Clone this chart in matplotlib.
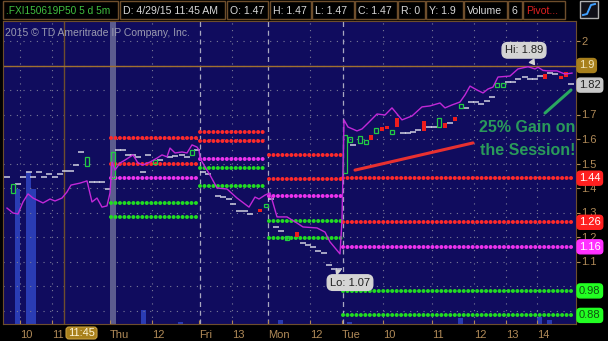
import matplotlib.pyplot as plt
from matplotlib.patches import Rectangle, FancyBboxPatch

W, H = 608, 341

# ---- data (x = position on the chart's bar/time axis, y = option price) ----
close_x = [7, 13, 18, 23, 28, 33, 43, 50, 55, 62, 67, 71, 80, 87, 92, 97, 102, 107, 110,
           112, 115, 120, 125, 133, 138, 143, 150, 157, 162, 167, 170, 175, 182, 187, 192, 197, 199,
           200, 205, 210, 217, 227, 237, 249, 255, 259, 265,
           270, 273, 277, 287, 297, 303, 317, 325, 330, 340, 342,
           344, 348, 357, 362, 368, 377, 385, 392, 402, 412, 422, 430, 440, 445, 452, 460,
           465, 470, 477, 483, 488, 493, 498, 510, 518, 528, 535, 538, 543, 548, 557, 565, 572]
close_y = [1.318, 1.298, 1.294, 1.343, 1.376, 1.359, 1.339, 1.355, 1.347, 1.359, 1.384, 1.412,
           1.420, 1.429, 1.343, 1.359, 1.322, 1.327, 1.380,
           1.506, 1.473, 1.502, 1.514, 1.535, 1.502, 1.494, 1.506, 1.522, 1.535, 1.527, 1.563,
           1.543, 1.547, 1.543, 1.576, 1.567, 1.555,
           1.522, 1.486, 1.453, 1.400, 1.396, 1.359, 1.322, 1.363, 1.355, 1.371,
           1.380, 1.339, 1.282, 1.282, 1.257, 1.241, 1.237, 1.220, 1.180, 1.131, 1.269,
           1.678, 1.649, 1.633, 1.641, 1.665, 1.702, 1.698, 1.727, 1.678, 1.694, 1.731, 1.735,
           1.747, 1.727, 1.739, 1.751,
           1.780, 1.816, 1.800, 1.788, 1.804, 1.812, 1.853, 1.857, 1.886, 1.895, 1.886, 1.893,
           1.880, 1.878, 1.878, 1.865, 1.869]

# flat bars (open = high = low = close)
flat_x = [7, 18, 23, 29, 33, 39, 44, 49, 55, 60, 65, 71, 76, 81, 92, 97, 102, 108,
          118, 123, 128, 133, 138, 143, 148, 160, 170, 175, 182, 187, 197,
          203, 208, 218, 223, 229, 233, 239, 245, 250, 271,
          276, 281, 303, 308, 313, 318, 324, 329, 334, 339,
          353, 403, 408, 413, 418, 429, 434, 450, 466, 471, 476, 481, 487, 492,
          508, 513, 518, 525, 530, 535, 540, 550, 555, 571]
flat_y = [1.445, 1.416, 1.445, 1.465, 1.445, 1.465, 1.445, 1.457, 1.445, 1.457, 1.469, 1.469,
          1.494, 1.547, 1.424, 1.424, 1.424, 1.396,
          1.555, 1.555, 1.535, 1.535, 1.527, 1.465, 1.535, 1.514, 1.527, 1.531, 1.535, 1.527, 1.555,
          1.465, 1.457, 1.367, 1.363, 1.355, 1.335, 1.306, 1.306, 1.294, 1.355,
          1.241, 1.224, 1.176, 1.167, 1.159, 1.143, 1.135, 1.086, 1.070, 1.070,
          1.576, 1.624, 1.624, 1.629, 1.637, 1.649, 1.649, 1.665, 1.727, 1.751, 1.751, 1.743,
          1.755, 1.771,
          1.833, 1.833, 1.845, 1.853, 1.845, 1.845, 1.857, 1.869, 1.865, 1.824]

up_x = [13, 87, 113, 155, 192, 266, 287, 345, 350, 360, 366, 376, 392, 439, 461, 497, 503]
up_open = [1.380, 1.490, 1.441, 1.498, 1.535, 1.322, 1.188, 1.461, 1.588, 1.584, 1.580,
           1.624, 1.620, 1.649, 1.727, 1.812, 1.812]
up_close = [1.416, 1.527, 1.547, 1.514, 1.555, 1.335, 1.204, 1.616, 1.608, 1.612, 1.596,
            1.645, 1.637, 1.686, 1.743, 1.829, 1.829]

down_x = [260, 297, 371, 382, 387, 397, 424, 445, 455, 545, 561, 566]
down_open = [1.314, 1.220, 1.616, 1.649, 1.653, 1.686, 1.673, 1.665, 1.690, 1.865, 1.857, 1.873]
down_close = [1.302, 1.200, 1.596, 1.633, 1.641, 1.649, 1.633, 1.645, 1.673, 1.845, 1.845, 1.853]

vol_x = [17, 28.5, 33.5, 143, 180, 280, 349, 460, 539, 549]
vol = [44.7, 50.3, 44.7, 4.6, 0.7, 1.3, 0.5, 2.0, 2.3, 1.3]

# daily pivot levels: session start/end, R1, R2, PP, S1, S2
piv_start = [111, 200, 269, 343]
piv_end = [198, 266, 341, 575]
piv_r1 = [1.604, 1.628, 1.535, 1.44]
piv_r2 = [1.50, 1.59, 1.437, 1.26]
piv_pp = [1.44, 1.52, 1.367, 1.16]
piv_s1 = [1.339, 1.48, 1.265, 0.98]
piv_s2 = [1.28, 1.41, 1.196, 0.88]

hour_ticks = [20, 52, 152, 232, 310, 383, 432, 474, 506, 537]
day_ticks = [113, 200, 268, 343]
xtick_pos = [20, 52, 110, 152, 199, 232, 268, 310, 342, 383, 432, 474, 506, 537]
xtick_lab = ['10', '11', 'Thu', '12', 'Fri', '13', 'Mon', '12', 'Tue', '10', '11', '12', '13', '14']
ytick_pos = [0.9 + 0.1 * i for i in range(12)]
ytick_lab = ['', '', '1.1', '1.2', '1.3', '1.4', '1.5', '1.6', '1.7', '', '', '2']

trend_x, trend_y = [355, 473], [1.473, 1.584]
arrow_x, arrow_y = [545, 571], [1.706, 1.800]

badges = [(1.9, '1.9', '#a8801c', '#f4e8c0'), (1.82, '1.82', '#c8c8c8', '#202020'),
          (1.44, '1.44', '#ff2020', 'white'), (1.26, '1.26', '#ff2020', 'white'),
          (1.16, '1.16', '#ff30ff', 'white'), (0.98, '0.98', '#22ff22', '#105010'),
          (0.88, '0.88', '#22ff22', '#105010')]

BG = '#100c5e'
TAN = '#b08a58'
BROWN = '#6e4e2c'

plt.rcParams['font.family'] = ['Liberation Sans', 'DejaVu Sans']

fig = plt.figure(figsize=(W / 100, H / 100), dpi=100, facecolor='black')

# price axes: plot area in pixels x 3..576, y 21..324
y_top = 2 + (41 - 21) / 245
y_bot = 2 - (324 - 41) / 245
rect = [3 / W, (H - 324) / H, 573 / W, 303 / H]
vax = fig.add_axes(rect)
ax = fig.add_axes(rect, sharex=vax)
vax.set_facecolor(BG)
ax.patch.set_visible(False)
vax.set_ylim(0, 100)
vax.set_yticks([])
for s in vax.spines.values():
    s.set_visible(False)
vax.bar(vol_x, vol, width=5, color='#2a3cb4', zorder=1)

ax.set_xlim(3, 576)
ax.set_ylim(y_bot, y_top)

# grid
for lv in ytick_pos:
    ax.axhline(lv, color='#7a7a98', lw=0.8, ls=(0, (1, 5)), zorder=1)
for hx in hour_ticks:
    ax.axvline(hx, color='#7a7a98', lw=0.8, ls=(0, (1, 5)), zorder=1)
ax.axvline(64, color=BROWN, lw=1, zorder=1)
for dx in day_ticks[1:]:
    ax.axvline(dx, color='#a8a8c0', lw=0.9, ls=(0, (4, 3)), zorder=1)
ax.axvspan(110, 116, color='#5c5c8e', lw=0, zorder=1.5)
ax.axhline(1.9, color='#a07030', lw=1, zorder=2)

# pivots
dot = dict(lw=2.9, ls=(0, (0.01, 1.1)), dash_capstyle='round', zorder=3)
for i in range(len(piv_start)):
    xs = [piv_start[i], piv_end[i]]
    ax.plot(xs, [piv_r1[i]] * 2, color='#ff2a2a', **dot)
    ax.plot(xs, [piv_r2[i]] * 2, color='#ff2a2a', **dot)
    ax.plot(xs, [piv_pp[i]] * 2, color='#ee33ee', **dot)
    ax.plot(xs, [piv_s1[i]] * 2, color='#22dd22', **dot)
    ax.plot(xs, [piv_s2[i]] * 2, color='#22dd22', **dot)

# bars
ax.plot(flat_x, flat_y, ls='none', marker='_', ms=4, mew=1.1, color='#d0d0e0', zorder=4)
ax.bar(up_x, [c - o for o, c in zip(up_open, up_close)], bottom=up_open, width=3.5,
       fill=False, edgecolor='#22cc44', lw=0.9, zorder=4)
ax.bar(down_x, [o - c for o, c in zip(down_open, down_close)], bottom=down_close, width=3.5,
       color='#ee1c1c', lw=0, zorder=4)

ax.plot(close_x, close_y, color='#c228d8', lw=1.0, zorder=5)

# drawings
ax.plot(trend_x, trend_y, color='#e83030', lw=2.2, solid_capstyle='round', zorder=6)
ax.plot(arrow_x, arrow_y, color='#2aa860', lw=2.2, solid_capstyle='round', zorder=6)
ax.text(575, 1.645, '25% Gain on', color='#2a9a5a', fontsize=11.5, fontweight='bold',
        va='center', ha='right', zorder=6)
ax.text(576, 1.555, 'the Session!', color='#2a9a5a', fontsize=11.5, fontweight='bold',
        va='center', ha='right', zorder=6)

call = dict(fontsize=8, color='#202020', zorder=7, ha='center', va='center',
            bbox=dict(boxstyle='round,pad=0.25,rounding_size=0.5', fc='#d4d4d4', ec='#d4d4d4'),
            arrowprops=dict(arrowstyle='wedge,tail_width=0.5', fc='#d4d4d4', ec='#d4d4d4'))
ax.annotate('Hi: 1.89', xy=(536, 1.895), xytext=(524, 1.962), **call)
ax.annotate('Lo: 1.07', xy=(334, 1.072), xytext=(350, 1.014), **call)

ax.text(5, 2 - (33 - 41) / 245, '2015 \u00a9 TD Ameritrade IP Company, Inc.', color='#9a9ab0',
        fontsize=7.5, va='center', ha='left', zorder=6)

# axes styling
for s in ax.spines.values():
    s.set_color(BROWN)
ax.yaxis.tick_right()
ax.set_yticks(ytick_pos)
ax.set_yticklabels(ytick_lab)
ax.tick_params(axis='y', colors=TAN, labelsize=8, length=3, width=0.8, pad=1)
ax.set_xticks(xtick_pos)
ax.set_xticklabels(xtick_lab, ha='left')
ax.tick_params(axis='x', colors=TAN, labelsize=8, length=3, direction='in', pad=4)
vax.tick_params(axis='x', length=0, labelbottom=False)

for val, lab, fc, tc in badges:
    ax.text(579, val, lab, color=tc, fontsize=8, ha='left', va='center', zorder=8, clip_on=False,
            bbox=dict(boxstyle='round,pad=0.18,rounding_size=0.3', fc=fc, ec=fc))

# header + overlay in pixel coords
ov = fig.add_axes([0, 0, 1, 1])
ov.set_xlim(0, W)
ov.set_ylim(H, 0)
ov.axis('off')
boxes = [(3, 118, '.FXI150619P50 5 d 5m', '#40c040'), (120, 225, 'D: 4/29/15 11:45 AM', '#d8d8d8'),
         (227, 268, 'O: 1.47', '#d8d8d8'), (270, 311, 'H: 1.47', '#d8d8d8'),
         (312, 354, 'L: 1.47', '#d8d8d8'), (355, 397, 'C: 1.47', '#d8d8d8'),
         (398, 425, 'R: 0', '#d8d8d8'), (426, 463, 'Y: 1.9', '#d8d8d8'),
         (464, 507, 'Volume', '#d8d8d8'), (508, 522, '6', '#d8d8d8'),
         (523, 565, 'Pivot...', '#e02020')]
for x0, x1, t, c in boxes:
    ov.add_patch(Rectangle((x0, 1), x1 - x0, 18, fill=False, ec=BROWN, lw=1))
    ov.text(x0 + 3, 10.5, t, color=c, fontsize=7.3 if x0 == 3 else 7.6, va='center', ha='left')
ov.add_patch(Rectangle((580, 1), 18, 17, fc='#101018', ec='#b0b0b0', lw=1))
ov.plot([583, 587, 591, 595], [15, 14, 5, 4], color='#40a0ff', lw=1.4)
ov.add_patch(FancyBboxPatch((66, 327), 31, 12, boxstyle='round,pad=0,rounding_size=3',
                            fc='#a8801c', ec='#c8a040', lw=0.8))
ov.text(81.5, 333, '11:45', color='#fff6d8', fontsize=8, ha='center', va='center')

fig.savefig('out.png', dpi=100, facecolor='black')
